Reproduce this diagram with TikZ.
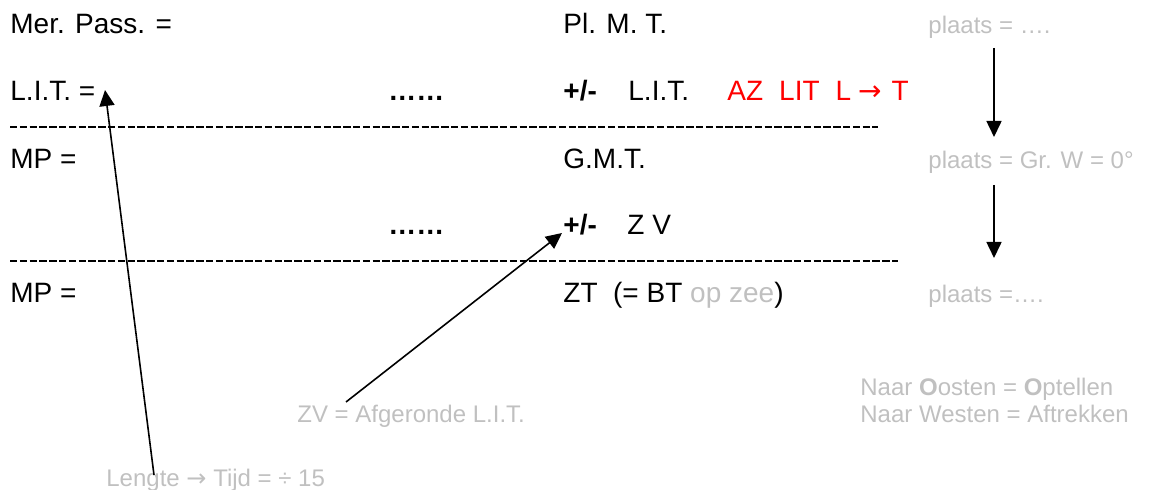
\documentclass[tikz,border=0pt]{standalone}
\usepackage{fontspec}
\setmainfont{Liberation Sans}
\newfontfamily\arrowfont{DejaVu Sans}
\usetikzlibrary{arrows.meta}
\definecolor{lightgraytext}{RGB}{192,192,192}
\begin{document}
\begin{tikzpicture}
[x=0.5pt,y=-0.5pt,
  blackdecorate/.style={anchor=base west,inner sep=0pt,font=\fontsize{14}{16}\selectfont},%
  graydecorate/.style={anchor=base west,inner sep=0pt,text=lightgraytext,font=\fontsize{12}{14}\selectfont},%
  linedecorate/.style={-{Triangle[length=8pt,width=7.5pt]},line width=0.8pt},%
  dashdecorate/.style={line width=1.3pt,dash pattern=on 3.7pt off 1.2pt}]
\useasboundingbox (0,0) rectangle (1161,490);
%% left column
\foreach \nodename/\y/\txt in {merpass/34/{Mer. Pass. =}, litleft/101/{L.I.T. =}, mpone/169/{MP =}, mptwo/303/{MP =}} {
  \node (\nodename) at (10,\y) [blackdecorate] {\txt};
}
%% dots
\foreach \nodename/\y in {dotsone/101, dotstwo/235} {
  \node (\nodename) at (388,\y) [blackdecorate] {\textbf{……}};
}
%% middle column
\node (plmt) at (563,34) [blackdecorate] {Pl. M. T.};
\node (pmone) at (563,101) [blackdecorate] {\textbf{+/-}};
\node (litright) at (628,101) [blackdecorate] {L.I.T.};
\node (azlit) at (727,101) [blackdecorate,text=red] {AZ\hspace{8pt}LIT\hspace{8pt}L\hspace{3.5pt}{\arrowfont →}\hspace{5pt}T};
\node (gmt) at (563,169) [blackdecorate] {G.M.T.};
\node (pmtwo) at (563,235) [blackdecorate] {\textbf{+/-}};
\node (zv) at (627,235) [blackdecorate] {Z V};
\node (zt) at (563,303) [blackdecorate] {ZT\ \ (= BT \textcolor{lightgraytext}{op zee})};
%% right column
\foreach \nodename/\y/\txt in {plaatsone/34/{plaats = ….}, plaatstwo/169/{plaats = Gr. W = 0°}, plaatsthree/303/{plaats =….}} {
  \node (\nodename) at (928,\y) [graydecorate] {\txt};
}
%% notes
\node (oosten) at (860,396) [graydecorate] {Naar \textbf{O}osten = \textbf{O}ptellen};
\node (westen) at (860,423) [graydecorate] {Naar Westen = Aftrekken};
\node (zvnote) at (297,423) [graydecorate] {ZV = Afgeronde L.I.T.};
\node (lengte) at (106,487) [graydecorate] {Lengte {\arrowfont →} Tijd = ÷ 15};
%% dashed rules
\draw[dashdecorate] (10,127) -- (878,127);
\draw[dashdecorate] (10,261) -- (898,261);
%% arrow ends
\coordinate (lengtetail) at (154,475);
\coordinate (littip) at (105,90);
\coordinate (zvtail) at (346,402);
\coordinate (zvtip) at (562,233);
\coordinate (plaatsonetail) at (994,48);
\coordinate (plaatsonetip) at (994,137);
\coordinate (plaatstwotail) at (994,185);
\coordinate (plaatstwotip) at (994,258);
%% arrows
\path
\foreach \startnode/\endnode in {lengtetail/littip, zvtail/zvtip, plaatsonetail/plaatsonetip, plaatstwotail/plaatstwotip} {
  (\startnode) edge[linedecorate] (\endnode)
};
\end{tikzpicture}
\end{document}
